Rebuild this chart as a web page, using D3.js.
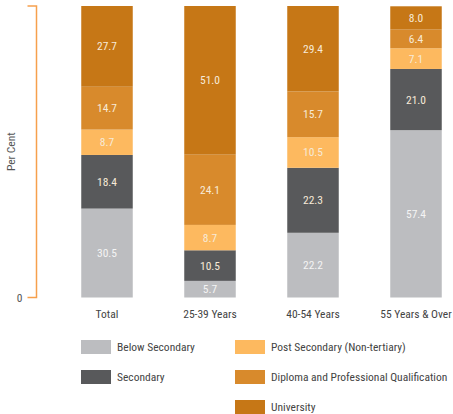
<!DOCTYPE html>
<html><head><meta charset="utf-8">
<script src="https://cdn.jsdelivr.net/npm/d3@7"></script>
<style>
body{margin:0;background:#fff;}
text{font-family:"Liberation Sans Narrow","Roboto Condensed","Arial Narrow",sans-serif;}
</style></head>
<body><svg id="c" width="453" height="414"></svg>
<script>
const categories = ["Total","25-39 Years","40-54 Years","55 Years & Over"];
const seriesNames = ["Below Secondary","Secondary","Post Secondary (Non-tertiary)","Diploma and Professional Qualification","University"];
const belowSecondary = [30.5, 5.7, 22.2, 57.4];
const secondary = [18.4, 10.5, 22.3, 21.0];
const postSecondary = [8.7, 8.7, 10.5, 7.1];
const diploma = [14.7, 24.1, 15.7, 6.4];
const university = [27.7, 51.0, 29.4, 8.0];
const colors = ["#bcbdc0","#58595b","#fdb95f","#d88a2c","#c67716"];
const yTicks = [0];

const seriesVals = [belowSecondary, secondary, postSecondary, diploma, university];
const rows = categories.map((c,i)=>{const o={cat:c}; seriesNames.forEach((s,j)=>o[s]=seriesVals[j][i]); return o;});
const stack = d3.stack().keys(seriesNames)(rows);

const svg = d3.select("#c");
const x = d3.scaleBand().domain(categories).range([55.5,467.5]).paddingInner(0.5).paddingOuter(0.25);
const plotTop = 6, plotBottom = 297.5;
const y = d3.scaleLinear().domain([0,100]).range([plotBottom, plotTop]);

// bars
svg.selectAll("g.s").data(stack).join("g").attr("class","s").attr("fill",(d,i)=>colors[i])
 .selectAll("rect").data(d=>d).join("rect")
 .attr("x",d=>x(d.data.cat)).attr("width",x.bandwidth())
 .attr("y",d=>y(Math.min(d[1],100))).attr("height",d=>y(d[0])-y(Math.min(d[1],100)));

// labels
stack.forEach((s,i)=>{
  svg.append("g").selectAll("text").data(s).join("text")
   .attr("x",d=>x(d.data.cat)+x.bandwidth()/2)
   .attr("y",d=>(y(d[0])+y(Math.min(d[1],100)))/2+4)
   .attr("text-anchor","middle").attr("font-size",11.5)
   .attr("fill", i===0 ? "#f4f4f4" : "#f7ead8")
   .text(d=>(d[1]-d[0]).toFixed(1));
});

// y axis bracket
const ax = svg.append("g").attr("transform","translate(36.5,0)");
ax.append("path").attr("d",`M-9,${y(100)}H0V${y(0)}H-9`).attr("fill","none").attr("stroke","#f6a04d").attr("stroke-width",1.5);
ax.selectAll("text").data(yTicks).join("text").attr("x",-14).attr("y",d=>y(d)+4)
 .attr("text-anchor","end").attr("font-size",11.5).attr("fill","#555").text(d=>d);
svg.append("text").attr("transform",`translate(15,${(plotTop+plotBottom)/2}) rotate(-90)`)
 .attr("text-anchor","middle").attr("font-size",11.5).attr("fill","#555").text("Per Cent");

// x labels
svg.append("g").selectAll("text").data(categories).join("text")
 .attr("x",d=>x(d)+x.bandwidth()/2).attr("y",318).attr("text-anchor","middle")
 .attr("font-size",11.5).attr("fill","#444").text(d=>d);

// legend
const legPos = [[81,340],[81,370],[235,340],[235,370],[235,400]];
seriesNames.forEach((s,i)=>{
  const [lx,ly] = legPos[i];
  svg.append("rect").attr("x",lx).attr("y",ly).attr("width",30).attr("height",14).attr("fill",colors[i]);
  svg.append("text").attr("x",lx+36).attr("y",ly+11).attr("font-size",11.5).attr("fill","#444").text(s);
});
</script></body></html>
